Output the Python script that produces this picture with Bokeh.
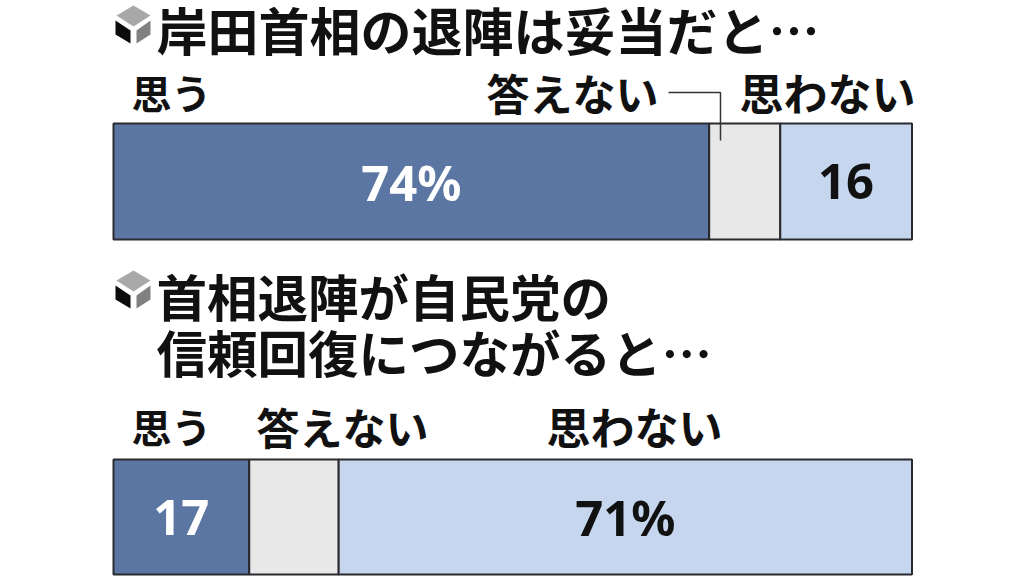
from bokeh.plotting import figure
from bokeh.models import Range1d
from bokeh.core.properties import value
from bokeh.embed import file_html
from bokeh.resources import INLINE

# Segment widths (% of the bar)
shares_top = [74.6, 8.9, 16.5]
shares_bottom = [17.0, 11.2, 71.8]
colors = ["#5b76a3", "#e8e8e8", "#c5d6ee"]
value_labels_top = ["74%", "", "16"]
value_labels_bottom = ["17", "", "71%"]
label_colors_top = ["#ffffff", "#000000", "#111111"]
label_colors_bottom = ["#ffffff", "#000000", "#111111"]
title_top = ["岸田首相の退陣は妥当だと…"]
title_bottom = ["首相退陣が自民党の", "信頼回復につながると…"]
JP = value("Noto Sans CJK JP")

W, H = 1024, 576
p = figure(width=W, height=H, output_backend="svg", toolbar_location=None,
           x_range=Range1d(0, W), y_range=Range1d(H, 0),
           x_axis_type=None, y_axis_type=None, min_border=0,
           outline_line_color=None, background_fill_color="#ffffff",
           border_fill_color="#ffffff")
p.grid.visible = False

# Percent scale of the bars, mapped onto the page's pixel span of the bars
X0, X100 = 113.0, 911.5
ppu = (X100 - X0) / 100
p.extra_x_ranges = {"pct": Range1d(-X0 / ppu, (W - X0) / ppu)}


def stacked(shares, labels, tcolors, y0, y1):
    left, right, mid = [], [], []
    acc = 0
    for s in shares:
        left.append(acc)
        acc += s
        right.append(acc)
        mid.append(acc - s / 2)
    p.quad(left=left, right=right, top=y0, bottom=y1, fill_color=colors,
           line_color="#2a2a2e", line_width=2, x_range_name="pct")
    p.text(x=mid, y=[(y0 + y1) / 2] * 3, text=labels, text_color=tcolors,
           text_font=value("Noto Sans"), text_font_style="bold", text_font_size="49px",
           text_align="center", text_baseline="middle", x_range_name="pct")


stacked(shares_top, value_labels_top, label_colors_top, 123, 239)
stacked(shares_bottom, value_labels_bottom, label_colors_bottom, 459, 574)


def icon(dy):
    p.patch([116, 133, 150, 133], [y + dy for y in [15, 5, 15, 26]], fill_color="#a8a8a8", line_color=None)
    p.patch([115, 130, 130, 115], [y + dy for y in [20, 30, 43, 34]], fill_color="#0c0c0c", line_color=None)
    p.patch([136, 150, 150, 136], [y + dy for y in [30, 20, 34, 43]], fill_color="#808080", line_color=None)


def head(x, y, txt, size="51px", align="left"):
    p.text(x=[x], y=[y], text=[txt], text_font=JP, text_font_style="bold", text_font_size=size,
           text_color="#111111", text_align=align, text_baseline="middle")


icon(0)
icon(265)
head(156, 28, title_top[0])
head(156, 294, title_bottom[0], "50.5px")
head(156, 350, title_bottom[1], "50.5px")

head(131, 91, "思う", "40px")
head(486, 91, "答えない", "43px")
head(739, 91, "思わない", "44px")
head(131, 425, "思う", "40px")
head(256, 425, "答えない", "43px")
head(546, 425, "思わない", "44px")

p.line([668, 720, 720], [92, 92, 140], line_color="#333333", line_width=1.5)

open("out.html", "w").write(file_html(p, INLINE))
